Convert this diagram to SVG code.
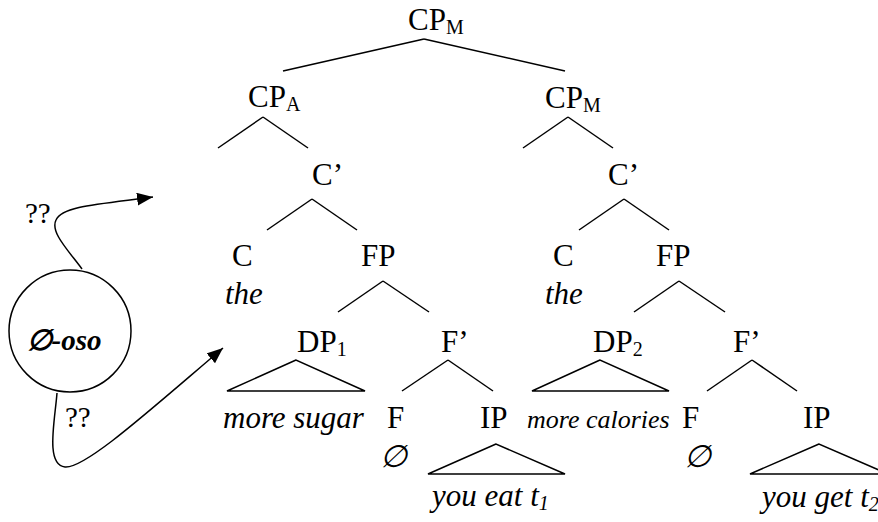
<svg xmlns="http://www.w3.org/2000/svg" width="878" height="522" viewBox="0 0 878 522">
<style>
text { font-family: "Liberation Serif", "DejaVu Serif", serif; font-size: 31px; fill: #000; }
.it { font-style: italic; }
.sub { font-size: 20px; }
.small { font-size: 26px; }
.e { font-size: 31px; font-style: italic; }
line, polygon, path.c, circle { stroke: #000; stroke-width: 1.5; fill: none; }
</style>
<defs>
<marker id="ah" markerUnits="userSpaceOnUse" markerWidth="18" markerHeight="14" refX="16" refY="6.5" orient="auto">
<path d="M0,0 L16,6.5 L0,13 z" fill="#000"/>
</marker>
</defs>
<rect width="878" height="522" fill="#fff"/>
<g id="connectors">
<line x1="424" y1="39" x2="283" y2="71"/>
<line x1="424" y1="39" x2="565" y2="71"/>
<line x1="263" y1="117" x2="218" y2="148"/>
<line x1="263" y1="117" x2="308" y2="148"/>
<line x1="568" y1="117" x2="523" y2="148"/>
<line x1="568" y1="117" x2="613" y2="148"/>
<line x1="312" y1="199" x2="267" y2="230"/>
<line x1="312" y1="199" x2="357" y2="230"/>
<line x1="624" y1="199" x2="579" y2="230"/>
<line x1="624" y1="199" x2="669" y2="230"/>
<line x1="383" y1="281" x2="338" y2="312"/>
<line x1="383" y1="281" x2="429" y2="312"/>
<line x1="679" y1="281" x2="634" y2="312"/>
<line x1="679" y1="281" x2="725" y2="312"/>
<polygon points="296,360 227,391 365,391"/>
<line x1="448" y1="360" x2="402" y2="391"/>
<line x1="448" y1="360" x2="493" y2="391"/>
<polygon points="600,360 532,391 669,391"/>
<line x1="752" y1="360" x2="707" y2="391"/>
<line x1="752" y1="360" x2="797" y2="391"/>
<polygon points="496,444 428,474 565,474"/>
<polygon points="819,444 750,474 888,474"/>
<path class="c" d="M82,269 C68,250 50,232 56,220 C62,206 100,204 153,197" marker-end="url(#ah)"/>
<path class="c" d="M57,393 C55,420 45,465 65,467 C85,469 150,410 223,348" marker-end="url(#ah)"/>
</g>
<g id="n-cpm-top"><text x="408" y="30">CP<tspan class="sub" dy="4">M</tspan></text></g>
<g id="n-cpa"><text x="248" y="107">CP<tspan class="sub" dy="4">A</tspan></text></g>
<g id="n-cpm-right"><text x="545" y="108">CP<tspan class="sub" dy="4">M</tspan></text></g>
<g id="n-cbar-left"><text x="312" y="185">C’</text></g>
<g id="n-cbar-right"><text x="608" y="185">C’</text></g>
<g id="n-c-left"><text x="232" y="266">C</text><text class="it" x="225" y="304">the</text></g>
<g id="n-fp-left"><text x="361" y="266">FP</text></g>
<g id="n-c-right"><text x="553" y="266">C</text><text class="it" x="545" y="304">the</text></g>
<g id="n-fp-right"><text x="656" y="266">FP</text></g>
<g id="n-dp1"><text x="297" y="352">DP<tspan class="sub" dy="4">1</tspan></text></g>
<g id="n-fbar-left"><text x="441" y="352">F’</text></g>
<g id="n-dp2"><text x="593" y="352">DP<tspan class="sub" dy="4">2</tspan></text></g>
<g id="n-fbar-right"><text x="733" y="352">F’</text></g>
<g id="n-dp1-leaf"><text class="it" x="223" y="428">more sugar</text></g>
<g id="n-f-left"><text x="387" y="428">F</text><text class="e" x="393" y="467" text-anchor="middle">∅</text></g>
<g id="n-ip-left"><text x="480" y="428">IP</text></g>
<g id="n-dp2-leaf"><text class="it small" x="527" y="428">more calories</text></g>
<g id="n-f-right"><text x="682" y="428">F</text><text class="e" x="697" y="467" text-anchor="middle">∅</text></g>
<g id="n-ip-right"><text x="803" y="428">IP</text></g>
<g id="n-ip-left-leaf"><text class="it" x="432" y="506">you eat t<tspan class="sub" dy="4">1</tspan></text></g>
<g id="n-ip-right-leaf"><text class="it" x="762" y="507">you get t<tspan class="sub" dy="4">2</tspan></text></g>
<g id="n-oso">
<circle cx="70" cy="331" r="61"/>
<text x="64" y="350" text-anchor="middle" style="font-weight:bold;font-style:italic;font-size:29px">∅-oso</text>
</g>
<g id="l-q1"><text x="25" y="223" style="font-size:29px">??</text></g>
<g id="l-q2"><text x="65" y="427" style="font-size:29px">??</text></g>
</svg>
